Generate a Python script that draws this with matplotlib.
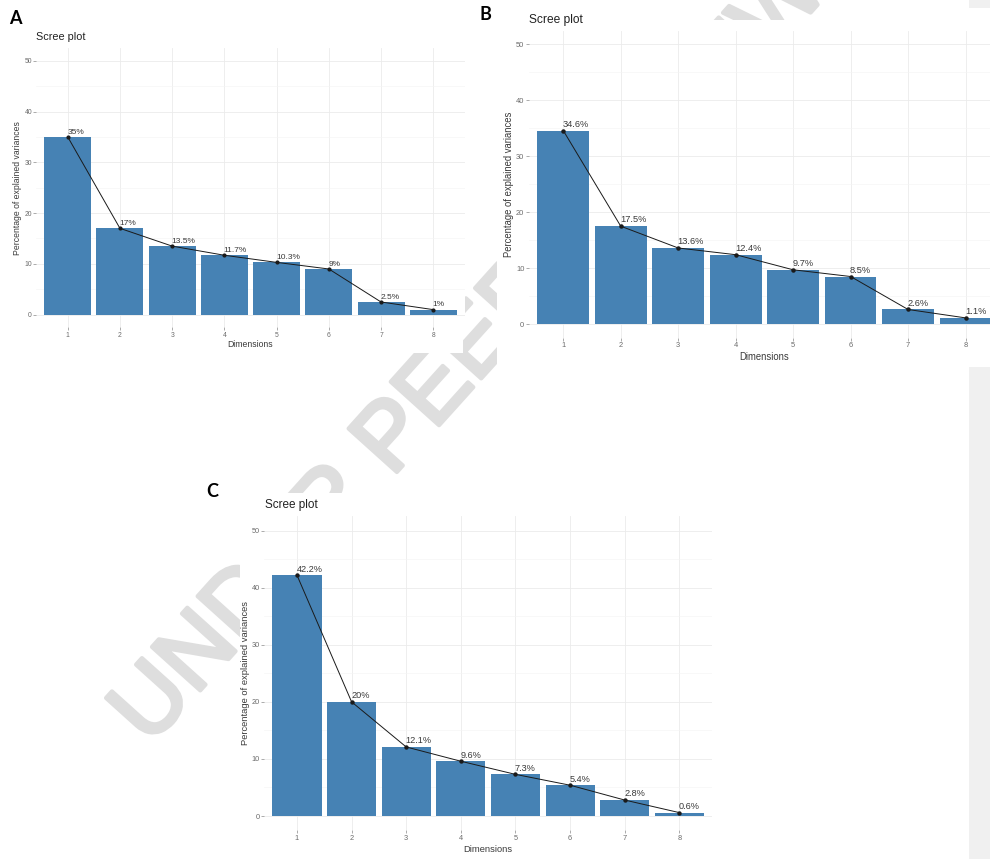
import matplotlib
matplotlib.use("Agg")
import matplotlib.pyplot as plt
from matplotlib.patches import Rectangle
import matplotlib.patheffects as pe
from matplotlib import font_manager as fm

W, H = 990, 859

dims = [1, 2, 3, 4, 5, 6, 7, 8]
dim_labels = ["1", "2", "3", "4", "5", "6", "7", "8"]
values_A = [35, 17, 13.5, 11.7, 10.3, 9, 2.5, 1]
values_B = [34.6, 17.5, 13.6, 12.4, 9.7, 8.5, 2.6, 1.1]
values_C = [42.2, 20, 12.1, 9.6, 7.3, 5.4, 2.8, 0.6]
y_ticks = [0, 10, 20, 30, 40, 50]
title_text = "Scree plot"
xlabel_text = "Dimensions"
ylabel_text = "Percentage of explained variances"
watermark_text = "UNDER PEER REVIEW"

FONT = "Liberation Sans"
BAR = "#4682B4"

installed = {f.name for f in fm.fontManager.ttflist}
WM_FONT = "Liberation Sans Narrow" if "Liberation Sans Narrow" in installed else FONT
wm_size = 84 if WM_FONT != FONT else 68

fig = plt.figure(figsize=(W / 100, H / 100), dpi=100)
fig.patch.set_facecolor("white")

bg = fig.add_axes([0, 0, 1, 1])
bg.set_xlim(0, W)
bg.set_ylim(H, 0)
bg.axis("off")

wm_col = "#dedede"
bg.text(472, 352, watermark_text, rotation=48, ha="center", va="center",
        fontsize=wm_size, family=WM_FONT, color=wm_col, zorder=1,
        path_effects=[pe.withStroke(linewidth=3.0, foreground=wm_col,
                                    capstyle="round", joinstyle="round")])

bg.add_patch(Rectangle((969, 0), 21, H, color="#f0f0f0", zorder=2, lw=0))
for (x0, y0, x1, y1) in [(0, 0, 463, 353), (497, 20, 990, 367), (930, 8, 990, 20),
                         (240, 493, 760, 859)]:
    bg.add_patch(Rectangle((x0, y0), x1 - x0, y1 - y0, color="white", zorder=3, lw=0))


def fx(x):
    return x / W


def fy(y):
    return 1 - y / H


def panel(values, left, right, top, bottom, s, letter, letter_xy, title_xy,
          ylab_x, xlab_y, xlab_x):
    ax = fig.add_axes([fx(left), fy(bottom), fx(right) - fx(left), (bottom - top) / H])
    ax.set_facecolor("white")
    ax.set_xlim(0.4, 8.6)
    ax.set_ylim(-2.5, 52.5)
    for sp in ax.spines.values():
        sp.set_visible(False)
    ax.set_yticks(y_ticks)
    ax.set_yticks([5, 15, 25, 35, 45], minor=True)
    ax.set_xticks(dims)
    ax.set_xticklabels(dim_labels)
    ax.grid(True, which="major", color="#ebebeb", lw=0.6, zorder=0)
    ax.grid(True, which="minor", axis="y", color="#f4f4f4", lw=0.45, zorder=0)
    ax.set_axisbelow(True)
    ax.tick_params(axis="both", which="major", length=2.0, width=0.5, color="#8a8a8a",
                   labelsize=4.9 * s, labelcolor="#6a6a6a", pad=1.2)
    ax.tick_params(axis="both", which="minor", length=0)
    for lab in ax.get_xticklabels() + ax.get_yticklabels():
        lab.set_family(FONT)
    ax.bar(dims, values, width=0.9, color=BAR, zorder=2)
    ax.plot(dims, values, color="#1a1a1a", lw=0.7, marker="o", ms=2.0 * s, zorder=3)
    for d, v in zip(dims, values):
        ax.annotate(f"{v:g}%", (d, v), xytext=(-0.4, 2.4 * s), textcoords="offset points",
                    ha="left", va="baseline", fontsize=6.0 * s, color="#3a3a3a",
                    family=FONT, zorder=4)
    bg.text(letter_xy[0], letter_xy[1], letter, ha="center", va="center",
            fontsize=13, fontweight="bold", family="Lato", color="black", zorder=4)
    bg.text(title_xy[0], title_xy[1], title_text, ha="left", va="center",
            fontsize=7.8 * s, family=FONT, color="#222222", zorder=4)
    bg.text(ylab_x, (top + bottom) / 2, ylabel_text, rotation=90, ha="center", va="center",
            fontsize=6.2 * s, family=FONT, color="#3a3a3a", zorder=4)
    bg.text(xlab_x, xlab_y, xlabel_text, ha="center", va="center",
            fontsize=6.2 * s, family=FONT, color="#3a3a3a", zorder=4)
    return ax


panel(values_A, 36.4, 464.6, 48.0, 327.4, 1.0, "A", (15, 18), (36, 37.5), 18, 344.5, 250.5)
panel(values_B, 528.8, 1000.0, 30.5, 338.0, 1.11, "B", (485, 14), (529, 19.5), 509.5, 357.5, 764)
panel(values_C, 264.2, 712.1, 516.4, 830.3, 1.09, "C", (212.5, 491.5), (265, 505), 246, 850, 488)

fig.savefig("out.png", dpi=100, facecolor="white")
